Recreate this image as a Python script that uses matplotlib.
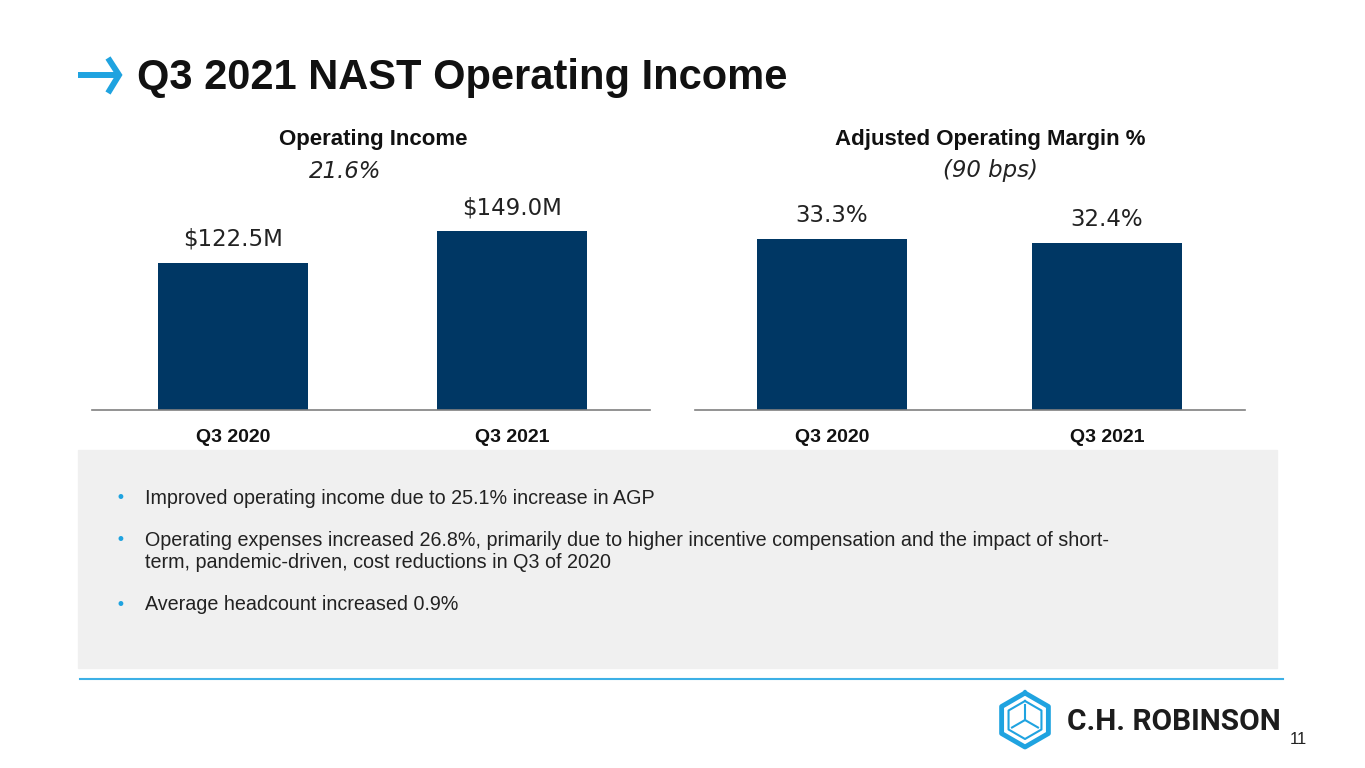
import numpy as np
import matplotlib.pyplot as plt
from matplotlib.patches import Rectangle

# data
quarters = ["Q3 2020", "Q3 2021"]
op_income = [122.5, 149.0]          # $M
op_margin = [33.3, 32.4]            # %
income_labels = ["$122.5M", "$149.0M"]
margin_labels = ["33.3%", "32.4%"]
income_change = "21.6%"
margin_change = "(90 bps)"
bullets = [
    "Improved operating income due to 25.1% increase in AGP",
    "Operating expenses increased 26.8%, primarily due to higher incentive compensation and the impact of short-\nterm, pandemic-driven, cost reductions in Q3 of 2020",
    "Average headcount increased 0.9%",
]

W, H = 1365, 768
BAR = "#003764"
BLUE = "#1FA3E0"

fig = plt.figure(figsize=(W / 100, H / 100), dpi=100)

def fx(px):
    return px / W

def fy(py):
    return 1 - py / H

def bar_panel(x0, x1, centers, values, labels, scale):
    # axes spans baseline (y=410) up to y=130 in pixels
    ax = fig.add_axes([fx(x0), fy(410), fx(x1 - x0), (410 - 130) / H])
    sp = centers[1] - centers[0]
    ax.set_xlim(-(centers[0] - x0) / sp, 1 + (x1 - centers[1]) / sp)
    ax.set_ylim(0, 280 / scale)
    xs = np.arange(len(values))
    ax.bar(xs, values, width=150 / sp, color=BAR)
    for x, v, lab in zip(xs, values, labels):
        ax.annotate(lab, (x, v), xytext=(0, 17), textcoords="offset points",
                    ha="center", va="center", fontsize=16.5, color="#222222",
                    family="DejaVu Sans")
    for s in ["top", "right", "left"]:
        ax.spines[s].set_visible(False)
    ax.spines["bottom"].set_color("#808080")
    ax.spines["bottom"].set_linewidth(1.2)
    ax.set_yticks([])
    ax.set_xticks(xs)
    ax.set_xticklabels(quarters, fontsize=14, fontweight="bold",
                       family="Liberation Sans", color="#111111")
    ax.tick_params(axis="x", length=0, pad=14)
    ax.patch.set_alpha(0)
    return ax

bar_panel(92, 650, [233, 512], op_income, income_labels, 1.2)
bar_panel(695, 1245, [832, 1107], op_margin, margin_labels, 5.14)

# panel titles
fig.text(fx(373), fy(139), "Operating Income", ha="center", va="center",
         fontsize=16, fontweight="bold", family="Liberation Sans", color="#111111")
fig.text(fx(345), fy(172), income_change, ha="center", va="center",
         fontsize=16.5, style="italic", family="DejaVu Sans", color="#222222")
fig.text(fx(990), fy(139), "Adjusted Operating Margin %", ha="center", va="center",
         fontsize=16, fontweight="bold", family="Liberation Sans", color="#111111")
fig.text(fx(990), fy(170), margin_change, ha="center", va="center",
         fontsize=16.5, style="italic", family="DejaVu Sans", color="#222222")

# slide title with arrow
fig.add_artist(plt.Line2D([fx(78), fx(118)], [fy(75), fy(75)], color=BLUE, lw=4.3,
                          solid_capstyle="butt"))
fig.add_artist(plt.Line2D([fx(108), fx(119), fx(108)], [fy(58), fy(75), fy(93)],
                          color=BLUE, lw=4.3, solid_joinstyle="miter",
                          solid_capstyle="butt"))
fig.text(fx(137), fy(78), "Q3 2021 NAST Operating Income", ha="left", va="center",
         fontsize=30, fontweight="bold", family="Liberation Sans", color="#111111")

# grey commentary box
fig.patches.append(Rectangle((fx(78), fy(668)), fx(1277 - 78), (668 - 450) / H,
                             transform=fig.transFigure, color="#F0F0F0", zorder=0))
starts = [498, 540, 605]
for y, txt in zip(starts, bullets):
    fig.text(fx(120), fy(y), "\u2022", ha="center", va="center", fontsize=12,
             color=BLUE, family="DejaVu Sans")
    for i, line in enumerate(txt.split("\n")):
        fig.text(fx(145), fy(y + 23 * i), line, ha="left", va="center", fontsize=14.2,
                 family="Liberation Sans", color="#222222")

# footer rule
fig.add_artist(plt.Line2D([fx(80), fx(1283)], [fy(679), fy(679)], color="#3DB0E6", lw=1.5))

# logo
lx, ly = 1025, 720
hx = lambda r, a: (fx(lx + r * np.cos(a)), fy(ly - r * np.sin(a)))
for r, lw in [(27, 3.5), (19, 1.5)]:
    ang = np.deg2rad(90 + 60 * np.arange(7))
    pts = [hx(r, a) for a in ang]
    fig.add_artist(plt.Line2D([p[0] for p in pts], [p[1] for p in pts], color=BLUE, lw=lw))
for a in [90, 210, 330]:
    p0 = hx(0, 0)
    p1 = hx(15, np.deg2rad(a))
    fig.add_artist(plt.Line2D([p0[0], p1[0]], [p0[1], p1[1]], color=BLUE, lw=1.5))
fig.text(fx(1067), fy(722), "C.H. ROBINSON", ha="left", va="center", fontsize=21.5,
         fontweight="bold", family="Roboto", color="#1c1c1c")
fig.text(fx(1298), fy(740), "11", ha="center", va="center", fontsize=12,
         family="Liberation Sans", color="#222222")

fig.savefig("out.png", dpi=100)
